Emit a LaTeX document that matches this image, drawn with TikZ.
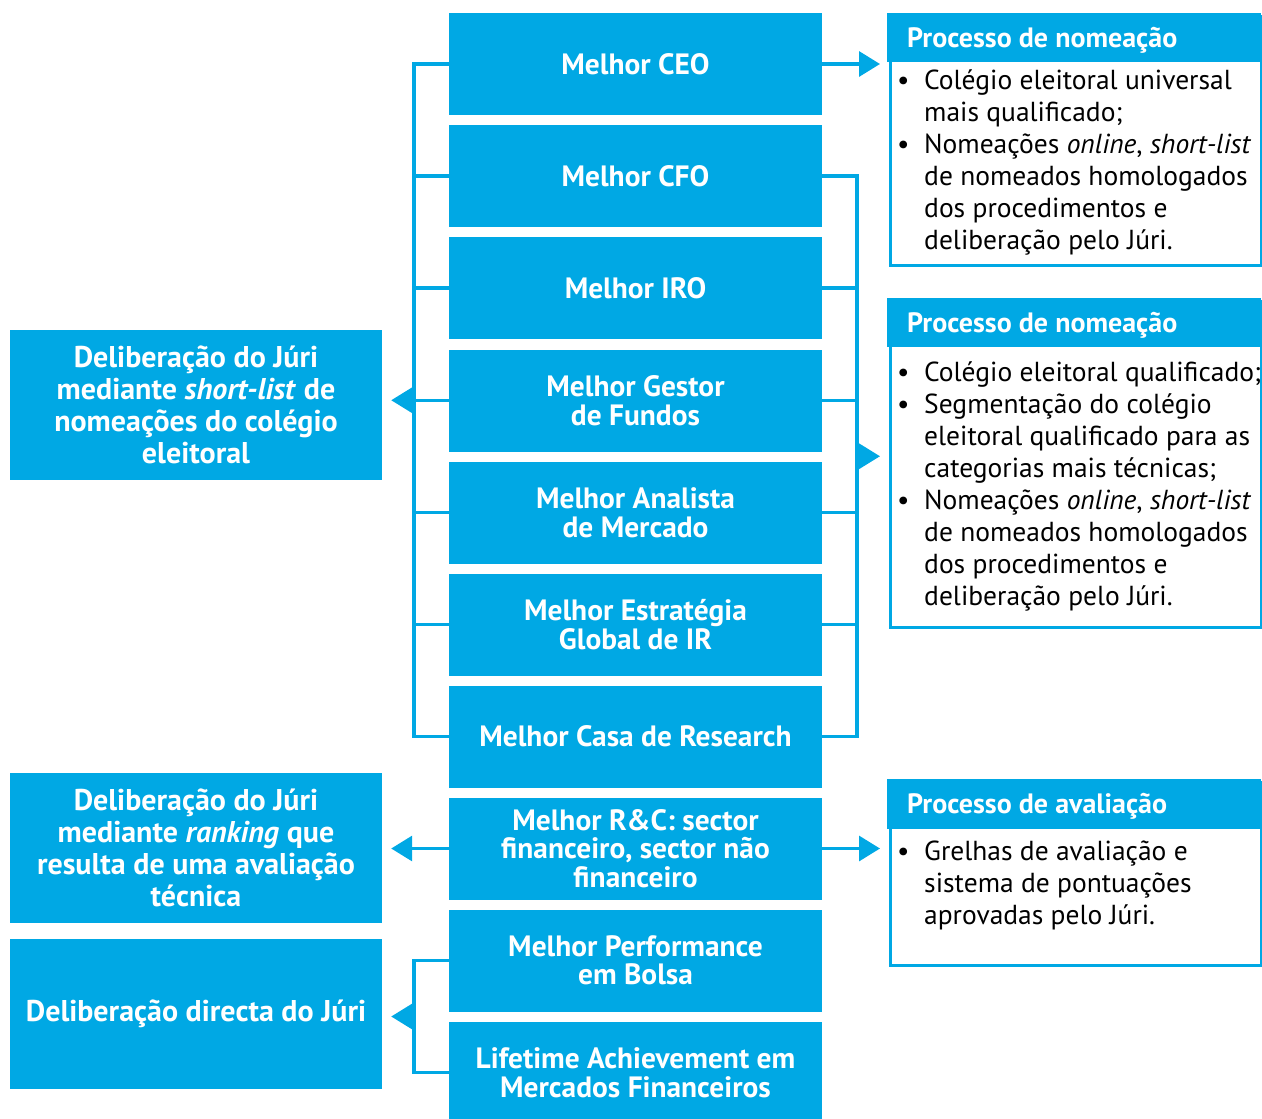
\documentclass[tikz,border=0pt]{standalone}
\usepackage{fontspec}
\setmainfont{PT Sans}
\usetikzlibrary{arrows.meta,calc}
\definecolor{cblue}{HTML}{00A8E4}
\newcommand\bitm{\hangindent=27pt\hangafter=1\noindent\makebox[27pt][l]{\textbullet}}
\begin{document}
\begin{tikzpicture}[x=1pt,y=-1pt,
  cat/.style={fill=cblue, minimum width=373pt, minimum height=102pt, inner sep=0pt, text=white, font=\bfseries\fontsize{29.4}{28.5}\selectfont, align=center},
  delib/.style={fill=cblue, minimum width=372pt, minimum height=150pt, inner sep=0pt, text=white, font=\bfseries\fontsize{30}{32}\selectfont, align=center},
  proc/.style={draw=cblue, line width=3pt, fill=white, minimum width=371pt, inner sep=0pt, anchor=north west},
  prochead/.style={fill=cblue, minimum width=374pt, inner sep=0pt, anchor=north west},
  headtxt/.style={anchor=base west, inner sep=0pt, text=white, font=\bfseries\fontsize{28}{32}\selectfont},
  bodytxt/.style={anchor=base west, inner sep=0pt},
  conn/.style={draw=cblue, line width=3.2pt},
  arr/.style={conn, -{Triangle[length=21pt,width=25pt]}},
]
\useasboundingbox (0,0) rectangle (1262,1119);

% centre column
\node[cat] (ceo)  at (635.5,64)    {Melhor CEO};
\node[cat] (cfo)  at (635.5,176)   {Melhor CFO};
\node[cat] (iro)  at (635.5,288)   {Melhor IRO};
\node[cat] (gest) at (635.5,400.5) {Melhor Gestor\\de Fundos};
\node[cat] (anal) at (635.5,512.5) {Melhor Analista\\de Mercado};
\node[cat] (estr) at (635.5,624.5) {Melhor Estratégia\\Global de IR};
\node[cat] (casa) at (635.5,736.5) {Melhor Casa de Research};
\node[cat] (rc)   at (635.5,848.5) {Melhor R\&C: sector\\financeiro, sector não\\financeiro};
\node[cat] (perf) at (635.5,960.5) {Melhor Performance\\em Bolsa};
\node[cat] (life) at (635.5,1072.5) {Lifetime Achievement em\\Mercados Financeiros};

% left boxes
\node[delib] (d1) at (196,405)  {Deliberação do Júri\\mediante \textit{short-list} de\\nomeações do colégio\\eleitoral};
\node[delib] (d2) at (196,848)  {Deliberação do Júri\\mediante \textit{ranking} que\\resulta de uma avaliação\\técnica};
\node[delib] (d3) at (196,1014) {Deliberação directa do Júri};

% right boxes
\node[proc, minimum height=249pt] (pa) at (888.5,14.5) {};
\node[prochead, minimum height=49pt] (pah) at (887,13) {};
\node[headtxt] (pat) at (907,47) {Processo de nomeação};
\node[bodytxt] (pab) at (897,89) {\parbox[t]{400pt}{\fontsize{27.5}{32}\selectfont
\bitm Colégio eleitoral universal\newline mais qualificado;\par
\bitm Nomeações \textit{online}, \textit{short-list}\newline de nomeados homologados\newline dos procedimentos e\newline deliberação pelo Júri.}};

\node[proc, minimum height=326pt] (pb) at (888.5,299.5) {};
\node[prochead, minimum height=49pt] (pbh) at (887,298) {};
\node[headtxt] (pbt) at (907,332) {Processo de nomeação};
\node[bodytxt] (pbb) at (897,381) {\parbox[t]{400pt}{\fontsize{27.5}{32}\selectfont
\bitm Colégio eleitoral qualificado;\par
\bitm Segmentação do colégio\newline eleitoral qualificado para as\newline categorias mais técnicas;\par
\bitm Nomeações \textit{online}, \textit{short-list}\newline de nomeados homologados\newline dos procedimentos e\newline deliberação pelo Júri.}};

\node[proc, minimum height=183pt] (pc) at (888.5,780.5) {};
\node[prochead, minimum height=50pt] (pch) at (887,779) {};
\node[headtxt] (pct) at (907,813) {Processo de avaliação};
\node[bodytxt] (pcb) at (897,860) {\parbox[t]{400pt}{\fontsize{27.5}{32}\selectfont
\bitm Grelhas de avaliação e\newline sistema de pontuações\newline aprovadas pelo Júri.}};

% left bracket
\coordinate (lb) at (414,0);
\coordinate (rb) at (857,0);
\draw[conn] (ceo.west) -- (ceo.west -| lb) -- (casa.west -| lb) -- (casa.west);
\foreach \n in {cfo,iro,gest,anal,estr} \draw[conn] (\n.west) -- (\n.west -| lb);
\coordinate (lm) at ($(ceo.west -| lb)!0.5!(casa.west -| lb)$);
\draw[arr, shorten >=9pt] (lm) -- (lm -| d1.east);

% right bracket
\draw[conn] (cfo.east) -- (cfo.east -| rb) -- (casa.east -| rb) -- (casa.east);
\foreach \n in {iro,gest,anal,estr} \draw[conn] (\n.east) -- (\n.east -| rb);
\coordinate (rm) at ($(cfo.east -| rb)!0.5!(casa.east -| rb)$);
\draw[arr, shorten >=8.5pt] (rm) -- (rm -| pb.west);

% CEO arrow
\draw[arr, shorten >=8.5pt] (ceo.east) -- (ceo.east -| pa.west);

% R&C arrows
\draw[arr, shorten >=9pt] (rc.west) -- (rc.west -| d2.east);
\draw[arr, shorten >=8.5pt] (rc.east) -- (rc.east -| pc.west);

% bottom bracket
\draw[conn] (perf.west) -- (perf.west -| lb) -- (life.west -| lb) -- (life.west);
\coordinate (bm) at ($(perf.west -| lb)!0.5!(life.west -| lb)$);
\draw[arr, shorten >=9pt] (bm) -- (bm -| d3.east);
\end{tikzpicture}
\end{document}
